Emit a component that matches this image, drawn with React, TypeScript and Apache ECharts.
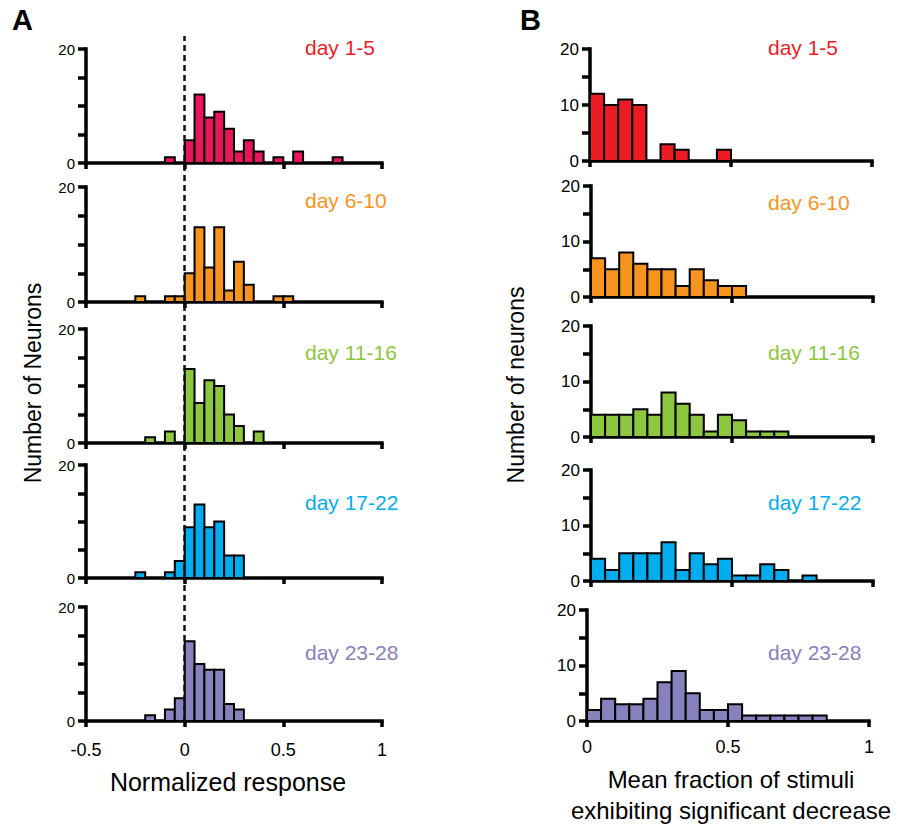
import React, { useEffect, useRef } from "react";
import * as echarts from "echarts";

// ---------- DATA ----------
// Panel A: normalized response histograms, bin edges (width 0.05)
const aBinEdges = [-0.25, -0.2, -0.15, -0.1, -0.05, 0, 0.05, 0.1, 0.15, 0.2, 0.25, 0.3, 0.35, 0.4, 0.45, 0.5, 0.55, 0.6, 0.65, 0.7, 0.75, 0.8];
const aDay1_5 = [0, 0, 0, 1, 0, 4, 12, 8, 9, 6, 2, 4, 2, 0, 1, 0, 2, 0, 0, 0, 1];
const aDay6_10 = [1, 0, 0, 1, 1, 5, 13, 6, 13, 2, 7, 3, 0, 0, 1, 1, 0, 0, 0, 0, 0];
const aDay11_16 = [0, 1, 0, 2, 0, 13, 7, 11, 10, 5, 3, 0, 2, 0, 0, 0, 0, 0, 0, 0, 0];
const aDay17_22 = [1, 0, 0, 1, 3, 9, 13, 9, 10, 4, 4, 0, 0, 0, 0, 0, 0, 0, 0, 0, 0];
const aDay23_28 = [0, 1, 0, 2, 4, 14, 10, 9, 9, 3, 2, 0, 0, 0, 0, 0, 0, 0, 0, 0, 0];

// Panel B: mean fraction of stimuli with significant decrease, bin edges (width 0.05)
const bBinEdges = [0, 0.05, 0.1, 0.15, 0.2, 0.25, 0.3, 0.35, 0.4, 0.45, 0.5, 0.55, 0.6, 0.65, 0.7, 0.75, 0.8, 0.85];
const bDay1_5 = [12, 10, 11, 10, 0, 3, 2, 0, 0, 2, 0, 0, 0, 0, 0, 0, 0];
const bDay6_10 = [7, 5, 8, 6, 5, 5, 2, 5, 3, 2, 2, 0, 0, 0, 0, 0, 0];
const bDay11_16 = [4, 4, 4, 5, 4, 8, 6, 4, 1, 4, 3, 1, 1, 1, 0, 0, 0];
const bDay17_22 = [4, 2, 5, 5, 5, 7, 2, 5, 3, 4, 1, 1, 3, 2, 0, 1, 0];
const bDay23_28 = [2, 4, 3, 3, 4, 7, 9, 5, 2, 2, 3, 1, 1, 1, 1, 1, 1];

const dayLabels = ["day 1-5", "day 6-10", "day 11-16", "day 17-22", "day 23-28"];
const aCounts = [aDay1_5, aDay6_10, aDay11_16, aDay17_22, aDay23_28];
const bCounts = [bDay1_5, bDay6_10, bDay11_16, bDay17_22, bDay23_28];

const aBarColors = ["#e8175d", "#f7941d", "#8dc63f", "#00aeef", "#8781bd"];
const bBarColors = ["#ed1c24", "#f7941d", "#8dc63f", "#00aeef", "#8781bd"];
const labelColors = ["#ed1c24", "#f7941d", "#8dc63f", "#00aeef", "#8781bd"];

const aYTickLabels = [0, 20];
const bYTickLabels = [0, 10, 20];

// ---------- LAYOUT ----------
const FONT = '"Liberation Sans", Arial, Helvetica, sans-serif';
const aTops = [49, 187, 329, 465, 607];
const aBottoms = [163, 302, 443, 578, 721];
const bTops = [49, 186, 326, 470, 610];
const bBottoms = [161, 297, 437, 581, 721];
const bLefts = [590, 591, 591, 591, 587];
const aLabelY = [47, 200, 352, 502, 652];
const bLabelY = [47, 202, 352, 502, 652];

function histData(edges: number[], counts: number[]) {
  const out: number[][] = [];
  counts.forEach((c, i) => {
    if (c > 0) out.push([edges[i], edges[i + 1], c]);
  });
  return out;
}

export default function App() {
  const ref = useRef<HTMLDivElement>(null);

  useEffect(() => {
    if (!ref.current) return;
    const chart = echarts.init(ref.current, null, { renderer: "svg" });

    const grids: any[] = [];
    const xAxes: any[] = [];
    const yAxes: any[] = [];
    const series: any[] = [];
    const graphics: any[] = [];

    const mkLine = () => ({ show: true, onZero: false, lineStyle: { color: "#000", width: 3.5, cap: "square" } });
    const mkTick = (len: number) => ({ show: true, inside: false, interval: 0, length: len, lineStyle: { color: "#000", width: 3.5 } });

    const renderBar = (color: string) => (params: any, api: any) => {
      const s = api.coord([api.value(0), api.value(2)]);
      const e = api.coord([api.value(1), 0]);
      return {
        type: "rect",
        shape: { x: s[0], y: s[1], width: e[0] - s[0], height: e[1] - s[1] },
        style: { fill: color, stroke: "#000", lineWidth: 2 },
      };
    };

    const addPanel = (
      left: number, width: number, top: number, bottom: number,
      xmin: number, xmax: number, showX: boolean, xMargin: number,
      yLabels: number[], yFont: number, data: number[][], color: string
    ) => {
      const idx = grids.length;
      grids.push({ left, top, width, height: bottom - top });
      xAxes.push({
        type: "value", gridIndex: idx, min: xmin, max: xmax, interval: 0.5,
        axisLine: mkLine(), axisTick: mkTick(6),
        axisLabel: { show: showX, color: "#000", fontSize: 18, fontFamily: FONT, margin: xMargin },
        splitLine: { show: false },
      });
      yAxes.push({
        type: "value", gridIndex: idx, min: 0, max: 20, interval: 5,
        axisLine: mkLine(), axisTick: mkTick(8),
        axisLabel: {
          show: true, color: "#000", fontSize: yFont, fontFamily: FONT, margin: 11,
          formatter: (v: number) => (yLabels.includes(v) ? String(v) : ""),
        },
        splitLine: { show: false },
      });
      series.push({
        type: "custom", xAxisIndex: idx, yAxisIndex: idx, data,
        encode: { x: [0, 1], y: 2 }, renderItem: renderBar(color), silent: true, z: 1,
      });
    };

    for (let i = 0; i < 5; i++) {
      addPanel(86, 296, aTops[i], aBottoms[i], -0.5, 1, i === 4, 20, aYTickLabels, 15, histData(aBinEdges, aCounts[i]), aBarColors[i]);
    }
    for (let i = 0; i < 5; i++) {
      addPanel(bLefts[i], 282, bTops[i], bBottoms[i], 0, 1, i === 4, 17, bYTickLabels, 17, histData(bBinEdges, bCounts[i]), bBarColors[i]);
    }

    // overlay grid for the dashed zero line running through panel A
    const ov = grids.length;
    grids.push({ left: 86, width: 296, top: 36, height: 685 });
    xAxes.push({ type: "value", gridIndex: ov, min: -0.5, max: 1, show: false });
    yAxes.push({ type: "value", gridIndex: ov, min: 0, max: 1, show: false });
    series.push({
      type: "line", xAxisIndex: ov, yAxisIndex: ov, data: [[0, 0]], symbol: "none",
      lineStyle: { width: 0 }, silent: true, z: 3,
      markLine: {
        silent: true, symbol: "none", label: { show: false },
        lineStyle: { type: [6, 4], width: 2.5, color: "#111" },
        data: [{ xAxis: 0 }],
      },
    });

    for (let i = 0; i < 5; i++) {
      graphics.push({ type: "text", x: 305, y: aLabelY[i],
        style: { text: dayLabels[i], fill: labelColors[i], font: `21px ${FONT}`, textAlign: "left", textVerticalAlign: "middle" } });
      graphics.push({ type: "text", x: 768, y: bLabelY[i],
        style: { text: dayLabels[i], fill: labelColors[i], font: `21px ${FONT}`, textAlign: "left", textVerticalAlign: "middle" } });
    }
    graphics.push({ type: "text", x: 12, y: 20,
      style: { text: "A", fill: "#000", font: `bold 29px ${FONT}`, textAlign: "left", textVerticalAlign: "middle" } });
    graphics.push({ type: "text", x: 520, y: 20,
      style: { text: "B", fill: "#000", font: `bold 29px ${FONT}`, textAlign: "left", textVerticalAlign: "middle" } });
    graphics.push({ type: "text", x: 33, y: 383, rotation: Math.PI / 2,
      style: { text: "Number of Neurons", fill: "#000", font: `23px ${FONT}`, textAlign: "center", textVerticalAlign: "middle" } });
    graphics.push({ type: "text", x: 516, y: 385, rotation: Math.PI / 2,
      style: { text: "Number of neurons", fill: "#000", font: `23px ${FONT}`, textAlign: "center", textVerticalAlign: "middle" } });
    graphics.push({ type: "text", x: 228, y: 782,
      style: { text: "Normalized response", fill: "#000", font: `25px ${FONT}`, textAlign: "center", textVerticalAlign: "middle" } });
    graphics.push({ type: "text", x: 731, y: 779,
      style: { text: "Mean fraction of stimuli", fill: "#000", font: `24px ${FONT}`, textAlign: "center", textVerticalAlign: "middle" } });
    graphics.push({ type: "text", x: 731, y: 810,
      style: { text: "exhibiting significant decrease", fill: "#000", font: `24px ${FONT}`, textAlign: "center", textVerticalAlign: "middle" } });

    chart.setOption({
      animation: false, backgroundColor: "#fff",
      grid: grids, xAxis: xAxes, yAxis: yAxes, series, graphic: graphics,
    });

    return () => chart.dispose();
  }, []);

  return (
    <div ref={ref} style={{ position: "fixed", left: 0, top: 0, width: 910, height: 825, background: "#fff" }} />
  );
}
